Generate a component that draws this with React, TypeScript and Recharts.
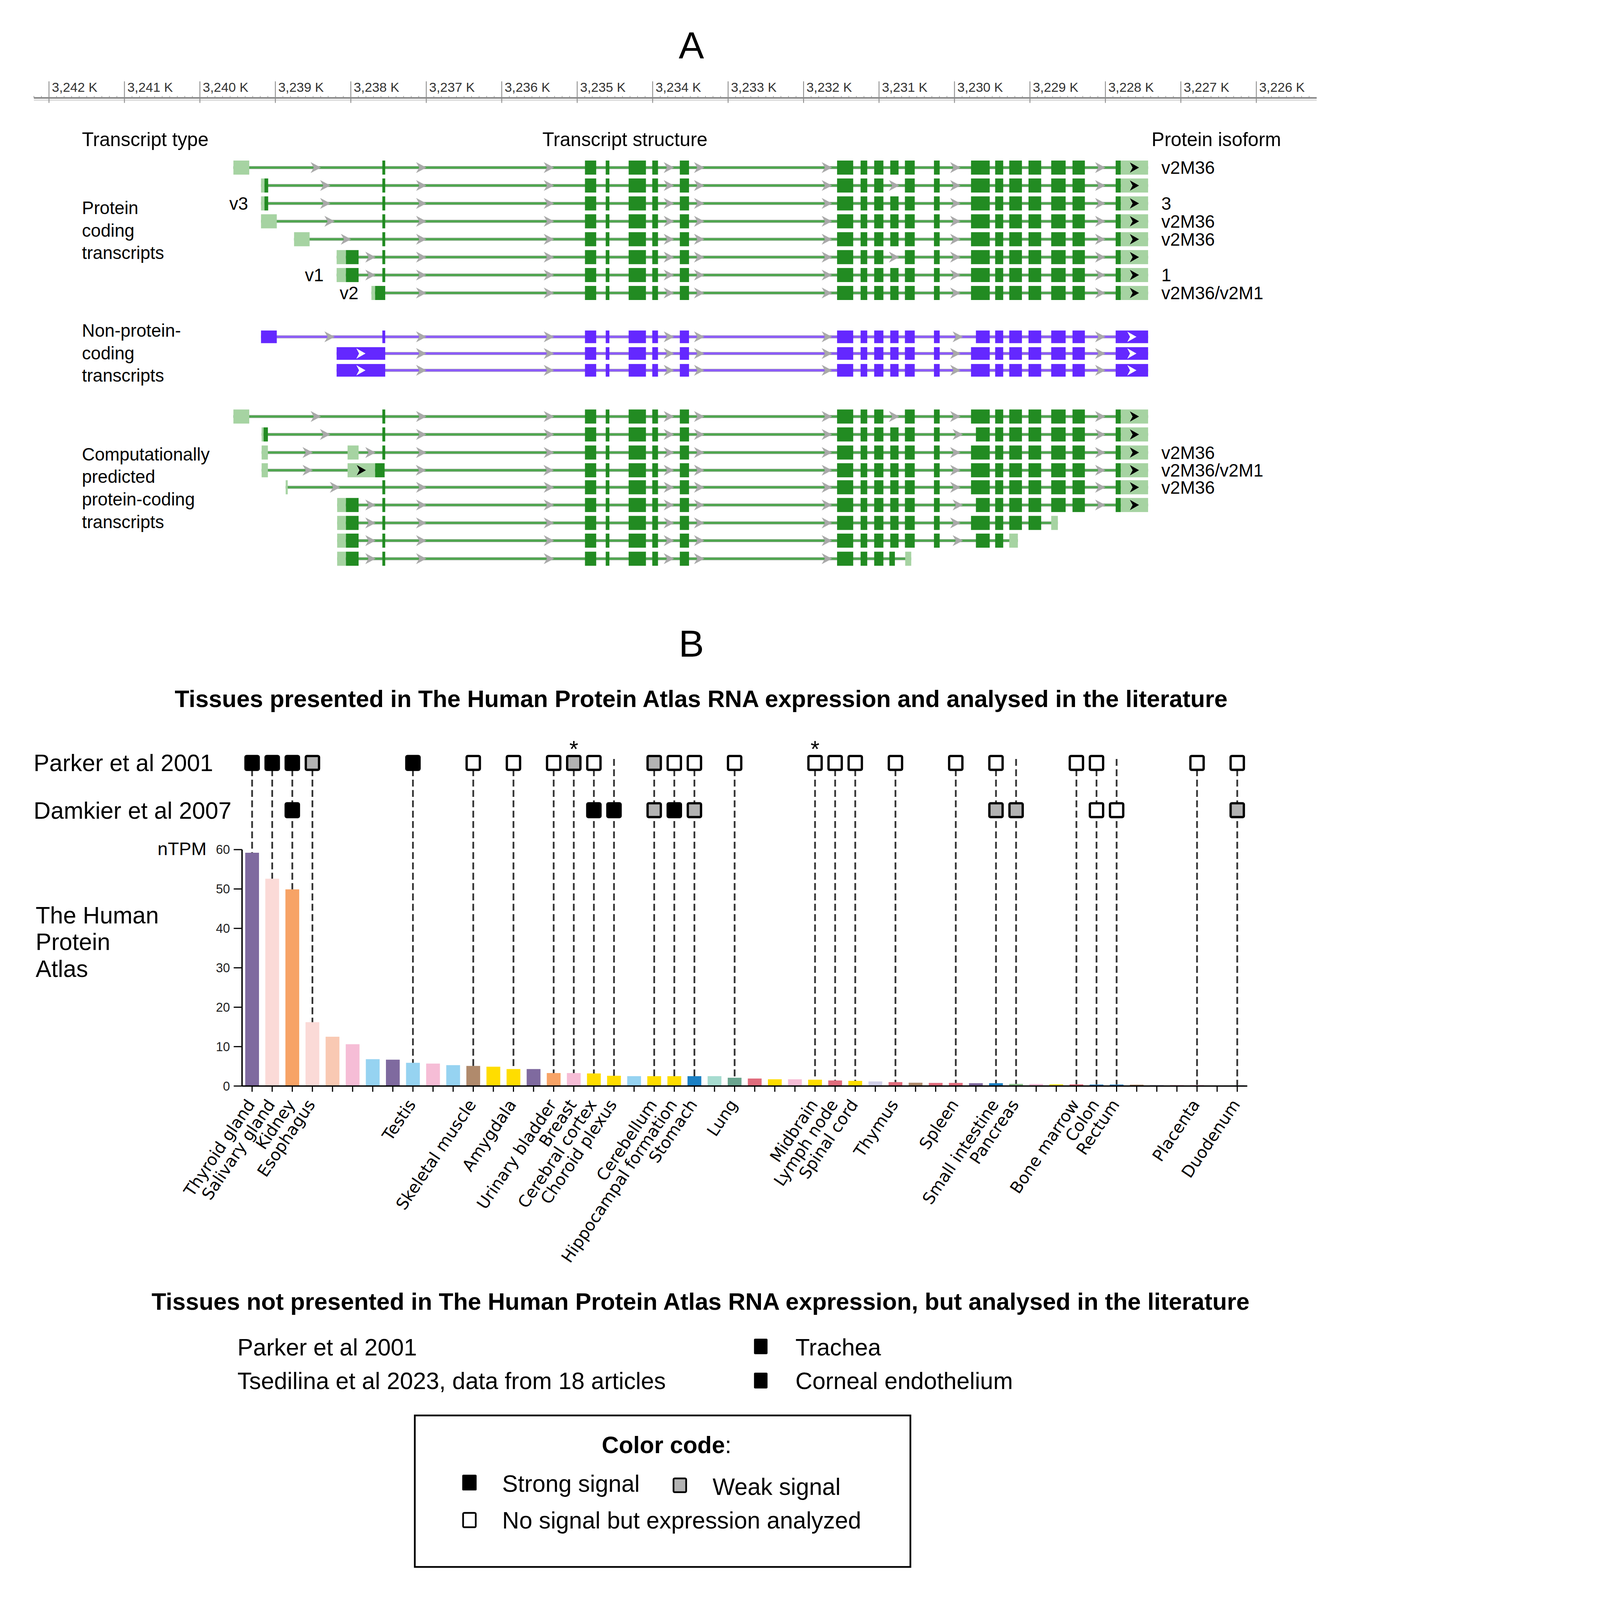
import React from 'react';
import { BarChart, ComposedChart, Bar, Scatter, XAxis, YAxis, Cell, ReferenceLine } from 'recharts';

const PAGE_W = 4697;
const PAGE_H = 5566;
const SANS = '"Liberation Sans", Arial, Helvetica, sans-serif';
const TICK_SANS = '"DejaVu Sans", Verdana, sans-serif';

// ---------------- Panel A: transcript structures (genomic position in kb) ----------------
const rulerKb = [3242, 3241, 3240, 3239, 3238, 3237, 3236, 3235, 3234, 3233, 3232, 3231, 3230, 3229, 3228, 3227, 3226];

type Kind = 'c' | 'u' | 'n';
type Exon = [number, number, Kind];

const exT = [3237.582, 3237.544];
const exMid = [[3234.897, 3234.748], [3234.622, 3234.573], [3234.318, 3234.089], [3234.005, 3233.929], [3233.64, 3233.518]];
const ex6to8 = [[3231.556, 3231.342], [3231.244, 3231.156], [3231.064, 3230.942]];
const ex9 = [3230.851, 3230.741];
const ex10to11 = [[3230.657, 3230.527], [3230.272, 3230.196]];
const ex12Long = [3229.781, 3229.533];
const ex12Short = [3229.716, 3229.533];
const ex13to17 = [[3229.461, 3229.354], [3229.274, 3229.106], [3229.019, 3228.851], [3228.718, 3228.527], [3228.436, 3228.272]];
const exLastCds = [3227.864, 3227.796];
const exLastUtr = [3227.796, 3227.434];
const exLastNc = [3227.864, 3227.434];

const as = (kind: Kind, pairs: number[][]): Exon[] => pairs.map(([a, b]) => [a, b, kind] as Exon);
const body = (with9: boolean, long12: boolean) => [
  ...ex6to8,
  ...(with9 ? [ex9] : []),
  ...ex10to11,
  long12 ? ex12Long : ex12Short,
  ...ex13to17,
];
const codingEnd = (with9: boolean, long12: boolean): Exon[] => [
  ...as('c', [...exMid, ...body(with9, long12), exLastCds]),
  ...as('u', [exLastUtr]),
];

interface Tx { exons: Exon[]; left?: string; iso?: string }

const codingTranscripts: Tx[] = [
  { iso: 'v2M36', exons: [...as('u', [[3239.556, 3239.346]]), ...as('c', [exT]), ...codingEnd(true, true)] },
  { exons: [...as('u', [[3239.19, 3239.144]]), ...as('c', [[3239.144, 3239.095], exT]), ...codingEnd(false, true)] },
  { left: 'v3', iso: '3', exons: [...as('u', [[3239.19, 3239.144]]), ...as('c', [[3239.144, 3239.095], exT]), ...codingEnd(true, true)] },
  { iso: 'v2M36', exons: [...as('u', [[3239.19, 3238.981]]), ...as('c', [exT]), ...codingEnd(true, true)] },
  { iso: 'v2M36', exons: [...as('u', [[3238.752, 3238.546]]), ...as('c', [exT]), ...codingEnd(true, true)] },
  { exons: [...as('u', [[3238.188, 3238.065]]), ...as('c', [[3238.065, 3237.897], exT]), ...codingEnd(false, true)] },
  { left: 'v1', iso: '1', exons: [...as('u', [[3238.188, 3238.065]]), ...as('c', [[3238.065, 3237.897], exT]), ...codingEnd(true, true)] },
  { left: 'v2', iso: 'v2M36/v2M1', exons: [...as('u', [[3237.727, 3237.678]]), ...as('c', [[3237.678, 3237.544]]), ...codingEnd(true, true)] },
];

const nonCodingTranscripts: Tx[] = [
  { exons: as('n', [[3239.19, 3238.981], exT, ...exMid, ...body(true, false), exLastNc]) },
  { exons: as('n', [[3238.188, 3237.544], ...exMid, ...body(true, true), exLastNc]) },
  { exons: as('n', [[3238.188, 3237.544], ...exMid, ...body(true, true), exLastNc]) },
];

const predHead = [...as('u', [[3238.181, 3238.065]]), ...as('c', [[3238.065, 3237.897], exT])];
const predictedTranscripts: Tx[] = [
  { exons: [...as('u', [[3239.556, 3239.346]]), ...as('c', [exT]), ...codingEnd(false, true)] },
  { exons: [...as('u', [[3239.182, 3239.156]]), ...as('c', [[3239.156, 3239.099], exT]), ...codingEnd(true, false)] },
  { iso: 'v2M36', exons: [...as('u', [[3239.182, 3239.099], [3238.043, 3237.897]]), ...as('c', [exT]), ...codingEnd(true, true)] },
  { iso: 'v2M36/v2M1', exons: [...as('u', [[3239.182, 3239.099], [3238.043, 3237.678]]), ...as('c', [[3237.678, 3237.552]]), ...codingEnd(true, true)] },
  { iso: 'v2M36', exons: [...as('u', [[3238.863, 3238.836]]), ...as('c', [exT]), ...codingEnd(true, true)] },
  { exons: [...predHead, ...codingEnd(true, false)] },
  { exons: [...predHead, ...as('c', [...exMid, ...ex6to8, ex9, ...ex10to11, ex12Long, [3229.461, 3229.354], [3229.274, 3229.106], [3229.019, 3228.851]]), ...as('u', [[3228.718, 3228.63]])] },
  { exons: [...predHead, ...as('c', [...exMid, ...ex6to8, ex9, ...ex10to11, ex12Short, [3229.461, 3229.354]]), ...as('u', [[3229.274, 3229.16]])] },
  { exons: [...predHead, ...as('c', [...exMid, ...ex6to8, [3230.863, 3230.79]]), ...as('u', [[3230.653, 3230.573]])] },
];

// vertical slot of each transcript row (layout)
const rowSlots = [0, 1, 2, 3, 4, 5, 6, 7, 9.45, 10.38, 11.32, 13.9, 14.9, 15.91, 16.9, 17.85, 18.84, 19.84, 20.83, 21.84];

const transcriptRows = [...codingTranscripts, ...nonCodingTranscripts, ...predictedTranscripts].map((t, i) => {
  const ks = t.exons.flatMap((e) => [e[0], e[1]]);
  return { ...t, row: rowSlots[i], nc: i >= 8 && i < 11, span: [Math.min(...ks), Math.max(...ks)] };
});

const rulerTicks: number[] = [];
for (let k = 32253; k <= 32422; k++) rulerTicks.push(k / 10);

// ---------------- Panel B: HPA RNA expression (nTPM) ----------------
const tissueLabels = [
  'Thyroid gland', 'Salivary gland', 'Kidney', 'Esophagus', '', '', '', '', 'Testis', '',
  '', 'Skeletal muscle', '', 'Amygdala', '', 'Urinary bladder', 'Breast', 'Cerebral cortex', 'Choroid plexus', '',
  'Cerebellum', 'Hippocampal formation', 'Stomach', '', 'Lung', '', '', '', 'Midbrain', 'Lymph node',
  'Spinal cord', '', 'Thymus', '', '', 'Spleen', '', 'Small intestine', 'Pancreas', '',
  '', 'Bone marrow', 'Colon', 'Rectum', '', '', '', 'Placenta', '', 'Duodenum',
];
const ntpm = [
  59.2, 52.6, 49.9, 16.2, 12.5, 10.6, 6.8, 6.7, 5.9, 5.7,
  5.3, 5.1, 4.9, 4.3, 4.3, 3.3, 3.3, 3.2, 2.6, 2.5,
  2.5, 2.5, 2.5, 2.5, 2.1, 1.9, 1.7, 1.7, 1.6, 1.4,
  1.3, 1.15, 1.0, 0.85, 0.8, 0.8, 0.72, 0.72, 0.55, 0.52,
  0.42, 0.42, 0.36, 0.36, 0.35, 0.3, 0.28, 0.28, 0.1, 0.15,
];
const tissueColors = [
  '#7f6a9f', '#fbdad7', '#f7a366', '#fbdad7', '#f9c9b3', '#f6bdd6', '#96d3f1', '#7f6a9f', '#96d3f1', '#f6bdd6',
  '#96d3f1', '#b08a6c', '#ffdd00', '#ffdd00', '#7f6a9f', '#f7a366', '#f6bdd6', '#ffdd00', '#ffdd00', '#96d3f1',
  '#ffdd00', '#ffdd00', '#1b80c4', '#a7dcd0', '#6aa58f', '#e06c7c', '#ffdd00', '#f6bdd6', '#ffdd00', '#e06c7c',
  '#ffdd00', '#d0cfe8', '#e06c7c', '#b08a6c', '#e06c7c', '#e06c7c', '#7f6a9f', '#1b80c4', '#90c18f', '#f6bdd6',
  '#ffdd00', '#e06c7c', '#1b80c4', '#1b80c4', '#b08a6c', '#d0cfe8', '#f6bdd6', '#f6bdd6', '#d0cfe8', '#1b80c4',
];

type Signal = 'strong' | 'weak' | 'none';
const parker2001: [string, Signal][] = [
  ['Thyroid gland', 'strong'], ['Salivary gland', 'strong'], ['Kidney', 'strong'], ['Esophagus', 'weak'],
  ['Testis', 'strong'], ['Skeletal muscle', 'none'], ['Amygdala', 'none'], ['Urinary bladder', 'none'],
  ['Breast', 'weak'], ['Cerebral cortex', 'none'], ['Cerebellum', 'weak'], ['Hippocampal formation', 'none'],
  ['Stomach', 'none'], ['Lung', 'none'], ['Midbrain', 'none'], ['Lymph node', 'none'], ['Spinal cord', 'none'],
  ['Thymus', 'none'], ['Spleen', 'none'], ['Small intestine', 'none'], ['Bone marrow', 'none'], ['Colon', 'none'],
  ['Placenta', 'none'], ['Duodenum', 'none'],
];
const damkier2007: [string, Signal][] = [
  ['Kidney', 'strong'], ['Cerebral cortex', 'strong'], ['Choroid plexus', 'strong'], ['Cerebellum', 'weak'],
  ['Hippocampal formation', 'strong'], ['Stomach', 'weak'], ['Small intestine', 'weak'], ['Pancreas', 'weak'],
  ['Colon', 'none'], ['Rectum', 'none'], ['Duodenum', 'weak'],
];
const starredTissues = ['Breast', 'Midbrain'];

// layout rows of the literature squares, in nTPM units of the overlay scale
const PARKER_ROW = 82;
const DAMKIER_ROW = 70;
const GUIDE_TOP = 83;

const parkerMap = new Map(parker2001);
const damkierMap = new Map(damkier2007);
const tissueRows = tissueLabels.map((label, i) => {
  const parker = label ? parkerMap.get(label) : undefined;
  const damkier = label ? damkierMap.get(label) : undefined;
  return {
    key: `t${i}`,
    label,
    ntpm: ntpm[i],
    parker,
    damkier,
    star: starredTissues.includes(label),
    parkerY: parker ? PARKER_ROW : null,
    damkierY: damkier ? DAMKIER_ROW : null,
    guide: parker || damkier ? [ntpm[i], GUIDE_TOP] : null,
  };
});
const labelByKey: Record<string, string> = Object.fromEntries(tissueRows.map((r) => [r.key, r.label]));

const signalFill: Record<Signal, string> = { strong: '#000000', weak: '#b3b3b3', none: '#ffffff' };

// ---------------- shapes ----------------
const chevron = (cx: number, cy: number, w: number, h: number) =>
  `M${cx - w / 2},${cy - h / 2} L${cx + w / 2},${cy} L${cx - w / 2},${cy + h / 2} L${cx - w / 2 + w * 0.3},${cy} Z`;

const GeneShape = (props: any) => {
  const { x, y, width, height, payload } = props;
  if (!payload || !Number.isFinite(x) || !Number.isFinite(width)) return <g />;
  const [lo, hi] = payload.span as number[];
  const left = Math.min(x, x + width);
  const right = Math.max(x, x + width);
  const px = (kb: number) => left + ((hi - kb) / (hi - lo)) * (right - left);
  const cy = y + height / 2;
  const nc: boolean = payload.nc;
  const exH = nc ? 44 : 49;
  const exons: Exon[] = [...payload.exons].sort((a, b) => Math.max(b[0], b[1]) - Math.max(a[0], a[1]));
  const arrows: number[] = [];
  for (let i = 0; i < exons.length - 1; i++) {
    const a = Math.min(exons[i][0], exons[i][1]);
    const b = Math.max(exons[i + 1][0], exons[i + 1][1]);
    const gap = a - b;
    const mid = (a + b) / 2;
    if (gap > 1.85) arrows.push(mid + 0.846, mid - 0.846);
    else if (gap > 0.27) arrows.push(mid);
  }
  return (
    <g>
      <rect x={left} y={cy - 5.5} width={right - left} height={11} fill="#b8b8b8" />
      <rect x={left} y={cy - 4} width={right - left} height={8} fill={nc ? '#8c5cf8' : '#4fa64f'} />
      {arrows.map((kb, i) => (
        <path key={`a${i}`} d={chevron(px(kb), cy, 36, 38)} fill="#a9a9a9" />
      ))}
      {exons.map((e, i) => {
        const eh = Math.max(e[0], e[1]);
        const el = Math.min(e[0], e[1]);
        const x0 = px(eh);
        const w = px(el) - x0;
        const fill = e[2] === 'c' ? '#228b22' : e[2] === 'u' ? '#a6d3a2' : '#6428ff';
        return (
          <g key={`e${i}`}>
            <rect x={x0} y={cy - exH / 2} width={w} height={exH} fill={fill} />
            {e[2] !== 'c' && eh - el > 0.3 && (
              <path d={chevron(x0 + w / 2, cy, 32, 36)} fill={e[2] === 'u' ? '#000000' : '#ffffff'} />
            )}
          </g>
        );
      })}
      {payload.left && (
        <text x={left - 45} y={cy + 22} textAnchor="end" fontSize={62} fontFamily={SANS} fill="#000">
          {payload.left}
        </text>
      )}
      {payload.iso && (
        <text x={right + 46} y={cy + 22} fontSize={62} fontFamily={SANS} fill="#000">
          {payload.iso}
        </text>
      )}
    </g>
  );
};

const RulerTick = (props: any) => {
  const { x, y, payload } = props;
  const v = payload.value as number;
  const major = rulerKb.some((m) => Math.abs(m - v) < 1e-6);
  if (!major) return <line x1={x} x2={x} y1={y - 6} y2={y} stroke="#8c8c8c" strokeWidth={2} />;
  const label = `${Math.floor(v / 1000)},${String(Math.round(v) % 1000).padStart(3, '0')} K`;
  return (
    <g>
      <line x1={x} x2={x} y1={y - 57} y2={y + 18} stroke="#8c8c8c" strokeWidth={3} />
      <text x={x + 10} y={y - 20} fontSize={46} fontFamily={SANS} fill="#333">
        {label}
      </text>
    </g>
  );
};

const TissueTick = (props: any) => {
  const { x, y, payload } = props;
  const label = labelByKey[payload.value];
  if (!label) return <g />;
  return (
    <text
      transform={`translate(${x + 12},${y + 42}) rotate(-56)`}
      textAnchor="end"
      fontSize={57}
      fontFamily={TICK_SANS}
      fill="#000"
    >
      {label}
    </text>
  );
};

const GuideShape = (props: any) => {
  const { x, y, width, height, payload } = props;
  if (!payload || !payload.guide || !Number.isFinite(y)) return <g />;
  const cx = x + width / 2;
  return (
    <line
      x1={cx}
      x2={cx}
      y1={Math.min(y, y + height)}
      y2={Math.max(y, y + height)}
      stroke="#333333"
      strokeWidth={6}
      strokeDasharray="24 12"
    />
  );
};

const LitSquare = ({ cx, cy, status, star }: { cx: number; cy: number; status?: Signal; star?: boolean }) => {
  if (!status || !Number.isFinite(cy)) return <g />;
  return (
    <g>
      <rect x={cx - 23} y={cy - 24} width={46} height={48} rx={4} fill={signalFill[status]} stroke="#000" strokeWidth={8} />
      {star && (
        <text x={cx} y={cy - 20} textAnchor="middle" fontSize={80} fontFamily={SANS} fill="#000">
          *
        </text>
      )}
    </g>
  );
};

// ---------------- static page text ----------------
const texts: { t: string; x: number; y: number; s: number; a?: 'start' | 'middle' | 'end'; b?: boolean }[] = [
  { t: 'A', x: 2405, y: 203, s: 132, a: 'middle' },
  { t: 'Transcript type', x: 285, y: 508, s: 67 },
  { t: 'Transcript structure', x: 2174, y: 508, s: 67, a: 'middle' },
  { t: 'Protein isoform', x: 4006, y: 508, s: 67 },
  { t: 'Protein', x: 285, y: 744, s: 62 },
  { t: 'coding', x: 285, y: 823, s: 62 },
  { t: 'transcripts', x: 285, y: 901, s: 62 },
  { t: 'Non-protein-', x: 285, y: 1171, s: 62 },
  { t: 'coding', x: 285, y: 1250, s: 62 },
  { t: 'transcripts', x: 285, y: 1328, s: 62 },
  { t: 'Computationally', x: 285, y: 1602, s: 62 },
  { t: 'predicted', x: 285, y: 1680, s: 62 },
  { t: 'protein-coding', x: 285, y: 1758, s: 62 },
  { t: 'transcripts', x: 285, y: 1837, s: 62 },
  { t: 'B', x: 2405, y: 2284, s: 132, a: 'middle' },
  { t: 'Tissues presented in The Human Protein Atlas RNA expression and analysed in the literature', x: 2439, y: 2459, s: 83, a: 'middle', b: true },
  { t: 'Parker et al 2001', x: 117, y: 2683, s: 82 },
  { t: 'Damkier et al 2007', x: 117, y: 2848, s: 82 },
  { t: 'nTPM', x: 548, y: 2974, s: 64 },
  { t: 'The Human', x: 124, y: 3213, s: 82 },
  { t: 'Protein', x: 124, y: 3305, s: 82 },
  { t: 'Atlas', x: 124, y: 3398, s: 82 },
  { t: 'Tissues not presented in The Human Protein Atlas RNA expression, but analysed in the literature', x: 2437, y: 4557, s: 83, a: 'middle', b: true },
  { t: 'Parker et al 2001', x: 826, y: 4716, s: 82 },
  { t: 'Tsedilina et al 2023, data from 18 articles', x: 826, y: 4832, s: 82 },
  { t: 'Trachea', x: 2767, y: 4716, s: 82 },
  { t: 'Corneal endothelium', x: 2767, y: 4832, s: 82 },
  { t: 'Strong signal', x: 1747, y: 5190, s: 82 },
  { t: 'Weak signal', x: 2479, y: 5200, s: 82 },
  { t: 'No signal but expression analyzed', x: 1747, y: 5318, s: 82 },
];

const StaticLayer = () => (
  <svg width={PAGE_W} height={PAGE_H} style={{ position: 'absolute', left: 0, top: 0 }}>
    {texts.map((d, i) => (
      <text
        key={i}
        x={d.x}
        y={d.y}
        fontSize={d.s}
        fontFamily={SANS}
        fontWeight={d.b ? 'bold' : 'normal'}
        textAnchor={d.a || 'start'}
        fill="#000"
      >
        {d.t}
      </text>
    ))}
    <rect x={2623} y={4657} width={47} height={54} rx={4} fill="#000" />
    <rect x={2623} y={4775} width={47} height={55} rx={4} fill="#000" />
    <rect x={1443} y={4924} width={1724} height={527} fill="none" stroke="#000" strokeWidth={6} />
    <text x={2319} y={5055} fontSize={82} fontFamily={SANS} textAnchor="middle" fill="#000">
      <tspan fontWeight="bold">Color code</tspan>:
    </text>
    <rect x={1608} y={5130} width={50} height={55} rx={4} fill="#000" />
    <rect x={2343} y={5143} width={44} height={48} rx={4} fill="#b3b3b3" stroke="#000" strokeWidth={6} />
    <rect x={1611} y={5263} width={44} height={50} rx={4} fill="#fff" stroke="#000" strokeWidth={6} />
  </svg>
);

export default function App() {
  // fit the 4697x5566 drawing into whatever CSS viewport the browser actually gives
  const vw = typeof window !== 'undefined' ? window.innerWidth : PAGE_W;
  const vh = typeof window !== 'undefined' ? window.innerHeight : PAGE_H;
  const fit = Math.min(vw / PAGE_W, vh / PAGE_H, 1);
  return (
    <div style={{ position: 'absolute', left: 0, top: 0, width: vw, height: vh, overflow: 'hidden', background: '#fff' }}>
      <div
        style={{
          position: 'absolute',
          left: 0,
          top: 0,
          width: PAGE_W,
          height: PAGE_H,
          background: '#fff',
          fontFamily: SANS,
          transform: `scale(${fit})`,
          transformOrigin: '0 0',
        }}
      >
        <StaticLayer />

        {/* Panel A */}
        <div style={{ position: 'absolute', left: 0, top: 0 }}>
          <ComposedChart
            width={PAGE_W}
            height={1996}
            layout="vertical"
            data={transcriptRows}
            margin={{ top: 190, right: 116.6, bottom: 5, left: 117.9 }}
          >
            <XAxis
              type="number"
              orientation="top"
              domain={[3225.2, 3242.2]}
              reversed
              ticks={rulerTicks}
              interval={0}
              height={150}
              tickSize={0}
              tickMargin={0}
              tickLine={false}
              axisLine={{ stroke: '#7a7a7a', strokeWidth: 4 }}
              tick={(p: any) => <RulerTick {...p} />}
            />
            <YAxis type="number" dataKey="row" domain={[-3.9, 22.6]} hide />
            <ReferenceLine y={-3.844} stroke="#c8c8c8" strokeWidth={3} ifOverflow="visible" />
            <ReferenceLine y={-3.751} stroke="#c0c0c0" strokeWidth={2} ifOverflow="visible" />
            <Bar dataKey="span" barSize={40} isAnimationActive={false} shape={(p: any) => <GeneShape {...p} />} />
          </ComposedChart>
        </div>

        {/* Panel B: expression bars */}
        <div style={{ position: 'absolute', left: 0, top: 2900 }}>
          <BarChart
            width={PAGE_W}
            height={1560}
            data={tissueRows}
            margin={{ top: 55.5, right: 358, bottom: 32, left: 722 }}
          >
            <XAxis
              dataKey="key"
              interval={0}
              height={650}
              tickSize={20}
              axisLine={{ stroke: '#000', strokeWidth: 5 }}
              tickLine={{ stroke: '#000', strokeWidth: 4 }}
              tick={(p: any) => <TissueTick {...p} />}
            />
            <YAxis
              domain={[0, 60]}
              ticks={[0, 10, 20, 30, 40, 50, 60]}
              width={120}
              tickSize={29}
              tickMargin={13}
              axisLine={{ stroke: '#000', strokeWidth: 5 }}
              tickLine={{ stroke: '#000', strokeWidth: 4 }}
              tick={{ fontSize: 44, fill: '#222', fontFamily: SANS }}
            />
            <Bar dataKey="ntpm" barSize={48} isAnimationActive={false}>
              {tissueRows.map((r, i) => (
                <Cell key={r.key} fill={tissueColors[i]} />
              ))}
            </Bar>
          </BarChart>
        </div>

        {/* Panel B: literature squares and guide lines */}
        <div style={{ position: 'absolute', left: 0, top: 2400 }}>
          <ComposedChart
            width={PAGE_W}
            height={1398}
            data={tissueRows}
            margin={{ top: 144.3, right: 358, bottom: 20, left: 842 }}
          >
            <XAxis dataKey="key" hide />
            <YAxis domain={[0, 90]} hide />
            <Bar dataKey="guide" barSize={48} isAnimationActive={false} shape={(p: any) => <GuideShape {...p} />} />
            <Scatter
              dataKey="parkerY"
              isAnimationActive={false}
              shape={(p: any) => <LitSquare cx={p.cx} cy={p.cy} status={p.payload?.parker} star={p.payload?.star} />}
            />
            <Scatter
              dataKey="damkierY"
              isAnimationActive={false}
              shape={(p: any) => <LitSquare cx={p.cx} cy={p.cy} status={p.payload?.damkier} />}
            />
          </ComposedChart>
        </div>
      </div>
    </div>
  );
}
